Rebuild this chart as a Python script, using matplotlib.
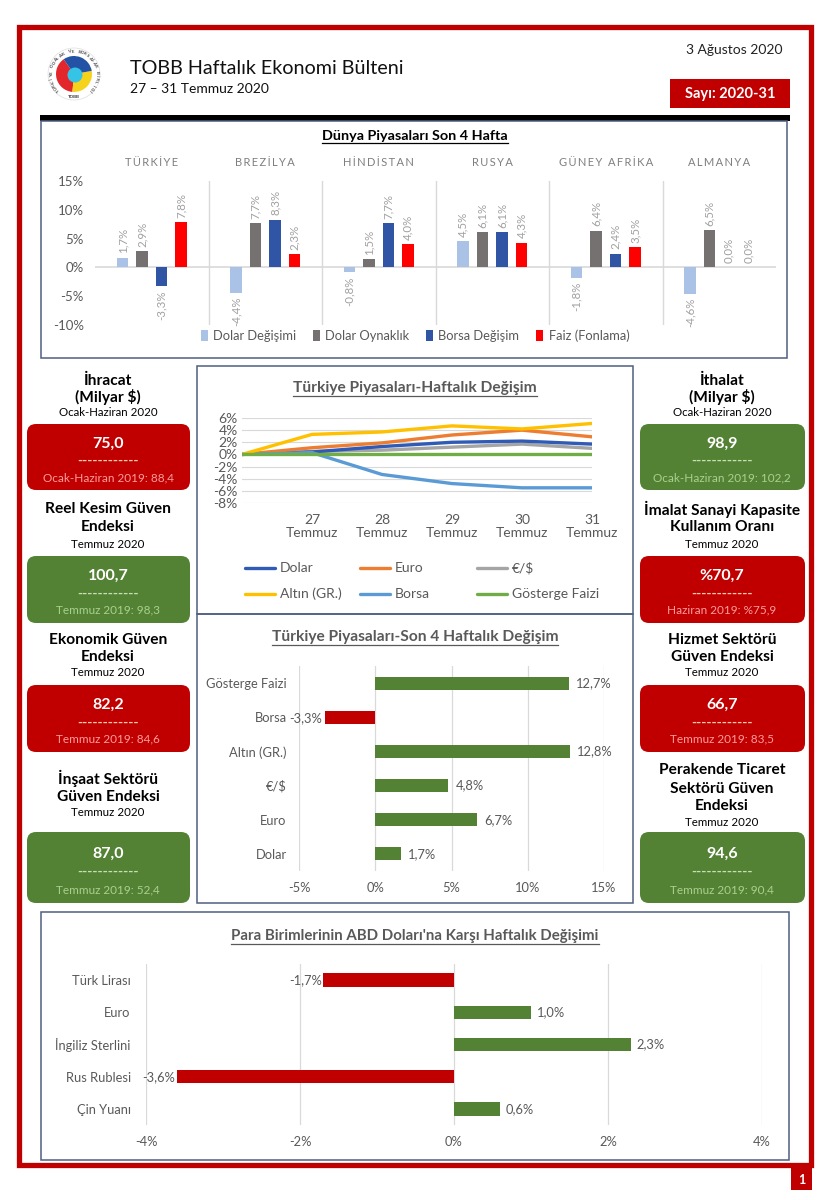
import matplotlib
matplotlib.use('Agg')
import matplotlib.pyplot as plt
from matplotlib.patches import Rectangle, FancyBboxPatch, Wedge, Circle, Patch
from matplotlib.lines import Line2D
import matplotlib.transforms as mtransforms
import numpy as np

W, H = 830, 1200
FONT = ['Lato', 'DejaVu Sans']
plt.rcParams['font.family'] = FONT

# ---------------- data ----------------
countries = ['TÜRKİYE', 'BREZİLYA', 'HİNDİSTAN', 'RUSYA', 'GÜNEY AFRİKA', 'ALMANYA']
world_series = ['Dolar Değişimi', 'Dolar Oynaklık', 'Borsa Değişim', 'Faiz (Fonlama)']
dolar_degisimi = [1.7, -4.4, -0.8, 4.5, -1.8, -4.6]
dolar_oynaklik = [2.9, 7.7, 1.5, 6.1, 6.4, 6.5]
borsa_degisim = [-3.3, 8.3, 7.7, 6.1, 2.4, 0.0]
faiz_fonlama = [7.8, 2.3, 4.0, 4.3, 3.5, 0.0]
world_yticks = [-10, -5, 0, 5, 10, 15]

days = ['', '27\nTemmuz', '28\nTemmuz', '29\nTemmuz', '30\nTemmuz', '31\nTemmuz']
line_names = ['Dolar', 'Euro', '€/$', 'Altın (GR.)', 'Borsa', 'Gösterge Faizi']
line_dolar = [0, 0.4, 1.3, 2.0, 2.2, 1.7]
line_euro = [0, 1.1, 1.9, 3.2, 4.0, 2.9]
line_eurusd = [0, 0.5, 0.7, 1.2, 1.7, 1.0]
line_altin = [0, 3.3, 3.7, 4.7, 4.2, 5.1]
line_borsa = [0, 0.3, -3.3, -4.8, -5.5, -5.5]
line_gosterge = [0, 0, 0, 0, 0, 0]
line_yticks = [-8, -6, -4, -2, 0, 2, 4, 6]

tr4_labels = ['Gösterge Faizi', 'Borsa', 'Altın (GR.)', '€/$', 'Euro', 'Dolar']
tr4_values = [12.7, -3.3, 12.8, 4.8, 6.7, 1.7]
tr4_xticks = [-5, 0, 5, 10, 15]

fx_labels = ['Türk Lirası', 'Euro', 'İngiliz Sterlini', 'Rus Rublesi', 'Çin Yuanı']
fx_values = [-1.7, 1.0, 2.3, -3.6, 0.6]
fx_xticks = [-4, -2, 0, 2, 4]

left_titles = [['İhracat', '(Milyar $)'], ['Reel Kesim Güven', 'Endeksi'],
               ['Ekonomik Güven', 'Endeksi'], ['İnşaat Sektörü', 'Güven Endeksi']]
left_periods = ['Ocak-Haziran 2020', 'Temmuz 2020', 'Temmuz 2020', 'Temmuz 2020']
left_values = ['75,0', '100,7', '82,2', '87,0']
left_prev = ['Ocak-Haziran 2019: 88,4', 'Temmuz 2019: 98,3', 'Temmuz 2019: 84,6', 'Temmuz 2019: 52,4']
left_good = [False, True, False, True]

right_titles = [['İthalat', '(Milyar $)'], ['İmalat Sanayi Kapasite', 'Kullanım Oranı'],
                ['Hizmet Sektörü', 'Güven Endeksi'], ['Perakende Ticaret', 'Sektörü Güven', 'Endeksi']]
right_periods = ['Ocak-Haziran 2020', 'Temmuz 2020', 'Temmuz 2020', 'Temmuz 2020']
right_values = ['98,9', '%70,7', '66,7', '94,6']
right_prev = ['Ocak-Haziran 2019: 102,2', 'Haziran 2019: %75,9', 'Temmuz 2019: 83,5', 'Temmuz 2019: 90,4']
right_good = [True, False, False, True]

# ---------------- colours ----------------
RED = '#C00000'
GREEN = '#548235'
GRAY_TXT = '#595959'
GRID = '#D9D9D9'
PANEL = '#4F5F80'
C_LB, C_GR, C_DB, C_RD = '#A9C2E6', '#767171', '#2F55A4', '#FF0000'
line_colors = ['#2F5BB7', '#ED7D31', '#A5A5A5', '#FFC000', '#5B9BD5', '#70AD47']

fig = plt.figure(figsize=(W / 100, H / 100), dpi=100)
bg = fig.add_axes([0, 0, 1, 1])
bg.set_xlim(0, W)
bg.set_ylim(H, 0)
bg.axis('off')


def add_ax(x0, y0, x1, y1):
    a = fig.add_axes([x0 / W, 1 - y1 / H, (x1 - x0) / W, (y1 - y0) / H])
    a.patch.set_alpha(0)
    return a


renderer = fig.canvas.get_renderer()


def utext(x, y, s, color, size, weight='bold'):
    t = bg.text(x, y, s, ha='center', va='center', color=color, fontsize=size, fontweight=weight)
    bb = t.get_window_extent(renderer=renderer)
    inv = bg.transData.inverted()
    (ax0, ay0), (ax1, _) = inv.transform([[bb.x0, bb.y0], [bb.x1, bb.y0]])
    bg.plot([ax0, ax1], [ay0 + 1, ay0 + 1], color=color, lw=0.9)
    return t


# ---------------- page frame ----------------
bg.add_patch(Rectangle((19, 27), 792, 1138, fill=False, edgecolor=RED, lw=3.8))
bg.add_patch(Rectangle((791, 1168), 21, 22, facecolor=RED, edgecolor='none'))
bg.text(801.5, 1179.5, '1', color='white', fontsize=9, fontweight='bold', ha='center', va='center')

# logo
cx, cy = 74, 74
bg.add_patch(Circle((cx, cy), 26, facecolor='white', edgecolor='#DDDDDD', lw=0.5))
bg.add_patch(Wedge((cx, cy), 18, 95, 235, facecolor='#E3262C', edgecolor='none'))
bg.add_patch(Wedge((cx, cy), 18, -10, 95, facecolor='#F6D21B', edgecolor='none'))
bg.add_patch(Wedge((cx, cy), 18, 235, 350, facecolor='#2452A4', edgecolor='none'))
bg.add_patch(Circle((cx + 1, cy + 1), 7.5, facecolor='#35C3E6', edgecolor='none'))
ring = 'TÜRKİYE ODALAR VE BORSALAR BİRLİĞİ'
angs = np.linspace(225, -45, len(ring))
for ch, a in zip(ring, angs):
    r = 22.5
    bg.text(cx + r * np.cos(np.radians(a)), cy - r * np.sin(np.radians(a)), ch, fontsize=3.2,
            rotation=a - 90, ha='center', va='center', color='#444444', fontweight='bold')
bg.text(cx, cy + 22.5, 'TOBB', fontsize=3.2, ha='center', va='center', color='#333333', fontweight='bold')

bg.text(130, 68, 'TOBB Haftalık Ekonomi Bülteni', fontsize=14.2, ha='left', va='center', color='#111111')
bg.text(130, 89, '27 – 31 Temmuz 2020', fontsize=10, ha='left', va='center', color='#111111')
bg.text(782, 50, '3 Ağustos 2020', fontsize=10, ha='right', va='center', color='#222222')
bg.add_patch(Rectangle((670, 79), 120, 29, facecolor=RED, edgecolor='none'))
bg.text(730, 94, 'Sayı: 2020-31', fontsize=10.5, ha='center', va='center', color='white', fontweight='bold')
bg.add_patch(Rectangle((40, 115), 750, 6, facecolor='black', edgecolor='none'))

# panels
for (x0, y0, x1, y1) in [(41, 121, 787, 358), (197, 366, 633, 614), (197, 614, 633, 903), (41, 912, 789, 1160)]:
    bg.add_patch(Rectangle((x0, y0), x1 - x0, y1 - y0, fill=False, edgecolor=PANEL, lw=1.1))

# ---------------- world markets chart ----------------
utext(415, 136, 'Dünya Piyasaları Son 4 Hafta', 'black', 10.4)
ax1 = add_ax(95, 181, 776, 325)
ngroups = len(countries)
xc = np.arange(ngroups) + 0.5
series = [dolar_degisimi, dolar_oynaklik, borsa_degisim, faiz_fonlama]
cols = [C_LB, C_GR, C_DB, C_RD]
step, bw = 0.172, 0.1
ax1.axhline(0, color=GRID, lw=1.2, zorder=0)
for k in range(1, ngroups):
    ax1.axvline(k, color=GRID, lw=1, zorder=0)
for i, (vals, c) in enumerate(zip(series, cols)):
    xs = xc + (i - 1.5) * step
    ax1.bar(xs, vals, width=bw, color=c, zorder=2)
    for x, v in zip(xs, vals):
        lab = f'{v:.1f}%'.replace('.', ',')
        if v >= 0:
            ax1.annotate(lab, (x, v), xytext=(0, 3), textcoords='offset points', rotation=90,
                         ha='center', va='bottom', fontsize=8.3, color='#A0A0A0')
        else:
            ax1.annotate(lab, (x, v), xytext=(0, -3), textcoords='offset points', rotation=90,
                         ha='center', va='top', fontsize=8.3, color='#A0A0A0')
ax1.set_xlim(0, ngroups)
ax1.set_ylim(-10, 15)
ax1.set_yticks(world_yticks)
ax1.set_yticklabels([f'{t}%' for t in world_yticks], fontsize=9.5, color=GRAY_TXT)
ax1.set_xticks([])
ax1.tick_params(axis='y', length=0, pad=8)
for s in ax1.spines.values():
    s.set_visible(False)
tr = mtransforms.blended_transform_factory(ax1.transData, ax1.transAxes)
for x, name in zip(xc, countries):
    ax1.text(x, 1.13, '\u2009'.join(name), transform=tr, ha='center', va='center', fontsize=8, color='#7F7F7F')
handles = [Patch(facecolor=c, edgecolor='none') for c in cols]
ax1.legend(handles, world_series, ncol=4, loc='center', bbox_to_anchor=(0.47, -0.075), frameon=False,
           fontsize=9.3, handlelength=0.55, handleheight=0.9, handletextpad=0.4, columnspacing=1.3,
           labelcolor=GRAY_TXT)

# ---------------- weekly line chart ----------------
utext(415, 388, 'Türkiye Piyasaları-Haftalık Değişim', GRAY_TXT, 11.2)
ax2 = add_ax(242, 418, 592, 503)
lines = [line_dolar, line_euro, line_eurusd, line_altin, line_borsa, line_gosterge]
for yv in line_yticks:
    ax2.axhline(yv, color=GRID, lw=0.8, zorder=0)
order = [2, 0, 1, 4, 3, 5]
for idx in order:
    ax2.plot(range(len(days)), lines[idx], color=line_colors[idx], lw=2.4, solid_capstyle='round')
ax2.set_xlim(0, len(days) - 1)
ax2.set_ylim(-8, 6)
ax2.set_yticks(line_yticks)
ax2.set_yticklabels([f'{t}%' for t in line_yticks], fontsize=10, color=GRAY_TXT)
ax2.set_xticks(range(1, len(days)))
ax2.set_xticklabels(days[1:], fontsize=10, color=GRAY_TXT, linespacing=1.1)
ax2.tick_params(axis='both', length=0)
ax2.tick_params(axis='y', pad=3)
ax2.tick_params(axis='x', pad=8)
for s in ax2.spines.values():
    s.set_visible(False)
# legend (manual, 3 columns x 2 rows)
leg_x = [245, 360, 477]
leg_y = [568, 594]
for j, (name, c) in enumerate(zip(line_names, line_colors)):
    lx = leg_x[j % 3]
    ly = leg_y[j // 3]
    bg.add_line(Line2D([lx, lx + 30], [ly, ly], color=c, lw=2.4, solid_capstyle='round'))
    bg.text(lx + 35, ly, name, fontsize=10, color=GRAY_TXT, ha='left', va='center')

# ---------------- 4-week bar chart ----------------
utext(415, 637, 'Türkiye Piyasaları-Son 4 Haftalık Değişim', GRAY_TXT, 11.2)
ax3 = add_ax(299, 666, 604, 871)
n3 = len(tr4_labels)
y3 = np.arange(n3)
for xv in tr4_xticks:
    ax3.axvline(xv, color=GRID, lw=0.9, zorder=0)
c3 = [GREEN if v >= 0 else RED for v in tr4_values]
ax3.barh(y3, tr4_values, height=0.38, color=c3, zorder=2)
for yy, v in zip(y3, tr4_values):
    lab = f'{v:.1f}%'.replace('.', ',')
    if v >= 0:
        ax3.annotate(lab, (v, yy), xytext=(5, 0), textcoords='offset points', ha='left', va='center',
                     fontsize=9.3, color=GRAY_TXT)
    else:
        ax3.annotate(lab, (v, yy), xytext=(-2, -1), textcoords='offset points', ha='right', va='center',
                     fontsize=9.3, color=GRAY_TXT)
ax3.set_ylim(n3 - 0.5, -0.5)
ax3.set_xlim(-5, 15)
ax3.set_yticks(y3)
ax3.set_yticklabels(tr4_labels, fontsize=9.3, color=GRAY_TXT)
ax3.set_xticks(tr4_xticks)
ax3.set_xticklabels([f'{t}%' for t in tr4_xticks], fontsize=9.3, color=GRAY_TXT)
ax3.tick_params(axis='both', length=0)
ax3.tick_params(axis='y', pad=9)
ax3.tick_params(axis='x', pad=8)
for s in ax3.spines.values():
    s.set_visible(False)

# ---------------- currency chart ----------------
utext(415, 936, "Para Birimlerinin ABD Doları'na Karşı Haftalık Değişimi", GRAY_TXT, 10.8)
ax4 = add_ax(146, 964, 762, 1125)
n4 = len(fx_labels)
y4 = np.arange(n4)
for xv in fx_xticks:
    ax4.axvline(xv, color=GRID, lw=0.9, zorder=0)
c4 = [GREEN if v >= 0 else RED for v in fx_values]
ax4.barh(y4, fx_values, height=0.42, color=c4, zorder=2)
for yy, v in zip(y4, fx_values):
    lab = f'{v:.1f}%'.replace('.', ',')
    if v >= 0:
        ax4.annotate(lab, (v, yy), xytext=(4, 0), textcoords='offset points', ha='left', va='center',
                     fontsize=9.3, color=GRAY_TXT)
    else:
        ax4.annotate(lab, (v, yy), xytext=(-1, 0), textcoords='offset points', ha='right', va='center',
                     fontsize=9.3, color=GRAY_TXT)
ax4.set_ylim(n4 - 0.5, -0.5)
ax4.set_xlim(-4, 4)
ax4.set_yticks(y4)
ax4.set_yticklabels(fx_labels, fontsize=9.3, color=GRAY_TXT)
ax4.set_xticks(fx_xticks)
ax4.set_xticklabels([f'{t}%' for t in fx_xticks], fontsize=9.3, color=GRAY_TXT)
ax4.tick_params(axis='both', length=0)
ax4.tick_params(axis='y', pad=11)
ax4.tick_params(axis='x', pad=8)
for s in ax4.spines.values():
    s.set_visible(False)

# ---------------- indicator cards ----------------
title_y_left = [[381, 397], [509, 527], [640, 657], [778, 797]]
period_y_left = [412, 544, 673, 813]
title_y_right = [[381, 397], [509, 527], [640, 657], [770, 789, 806]]
period_y_right = [412, 544, 673, 822]
card_y = [(424, 490), (556, 623), (685, 752), (832, 903)]


def draw_cards(xc0, x0, x1, titles, tys, periods, pys, values, prevs, goods):
    for i in range(4):
        for line, ty in zip(titles[i], tys[i]):
            bg.text(xc0, ty, line, fontsize=11.2, fontweight='bold', ha='center', va='center', color='black')
        bg.text(xc0, pys[i], periods[i], fontsize=8.3, ha='center', va='center', color='black')
        y0, y1 = card_y[i]
        fc = GREEN if goods[i] else RED
        bg.add_patch(FancyBboxPatch((x0, y0), x1 - x0, y1 - y0, boxstyle='round,pad=0,rounding_size=9',
                                    facecolor=fc, edgecolor='none'))
        sub = '#A9D08E' if goods[i] else '#FF9C9C'
        dash = '#C5E0B4' if goods[i] else '#F8CBAD'
        h = y1 - y0
        bg.text(xc0, y0 + h * 0.30, values[i], fontsize=11.5, fontweight='bold', ha='center', va='center',
                color='white')
        bg.text(xc0, y0 + h * 0.56, '------------', fontsize=10, fontweight='bold', ha='center', va='center',
                color=dash)
        bg.text(xc0, y0 + h * 0.81, prevs[i], fontsize=8.5, ha='center', va='center', color=sub)


draw_cards(108, 27, 190, left_titles, title_y_left, left_periods, period_y_left, left_values, left_prev, left_good)
draw_cards(722, 640, 805, right_titles, title_y_right, right_periods, period_y_right, right_values, right_prev,
           right_good)

fig.savefig('out.png', dpi=100)
